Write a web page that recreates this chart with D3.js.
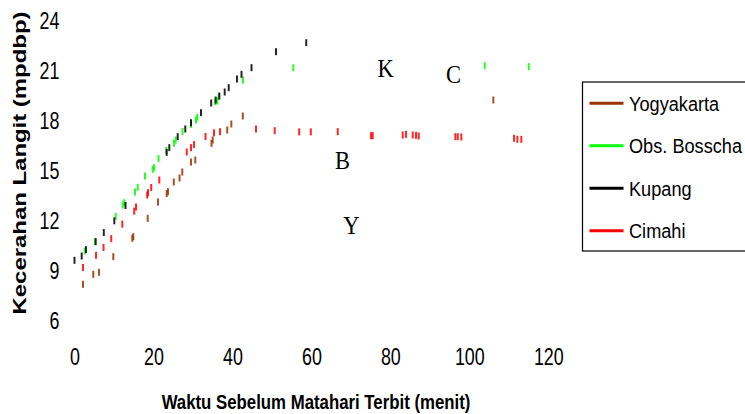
<!DOCTYPE html>
<html>
<head>
<meta charset="utf-8">
<script src="https://cdn.jsdelivr.net/npm/d3@7"></script>
<style>
  html, body { margin: 0; padding: 0; background: #fff; }
  svg { display: block; }
</style>
</head>
<body>
<div id="chart"></div>
<script>
// ---- data ----
var xTicks = [0, 20, 40, 60, 80, 100, 120];
var yTicks = [6, 9, 12, 15, 18, 21, 24];

var seriesNames = ["Yogyakarta", "Obs. Bosscha", "Kupang", "Cimahi"];
var seriesColors = ["#993300", "#00ff00", "#000000", "#ff0000"];

var yogyaX = [2.15, 4.76, 6.21, 9.83, 14.64, 14.89, 18.54, 21.15, 23.35, 23.68, 25.15, 26.6, 27.3, 29.51, 30.6, 34.7, 35.0, 38.68, 39.72, 42.63, 106.08];
var yogyaY = [8.02, 8.62, 8.74, 9.68, 10.78, 10.88, 11.98, 12.96, 13.47, 13.58, 14.16, 14.4, 14.76, 15.36, 15.48, 16.48, 16.68, 17.28, 17.64, 18.12, 19.08];

var bosschaX = [2.58, 5.19, 10.44, 12.21, 12.61, 15.32, 16.01, 17.86, 19.81, 20.14, 21.28, 23.25, 25.2, 25.63, 27.36, 29.51, 30.78, 31.08, 35.59, 36.17, 36.52, 42.68, 55.42, 103.9, 115.05];
var bosschaY = [10.02, 10.58, 12.09, 12.78, 12.92, 13.56, 13.84, 14.52, 14.92, 15.02, 15.57, 16.05, 16.48, 16.68, 17.19, 17.62, 17.88, 18.04, 18.99, 19.02, 19.28, 20.28, 21.02, 21.14, 21.08];

var kupangX = [0, 1.82, 2.91, 5.37, 7.42, 10.08, 12.92, 23.35, 24.01, 26.14, 28.06, 29.51, 32.04, 34.62, 35.76, 36.68, 38.04, 39.06, 41.16, 42.3, 44.83, 51.04, 58.69];
var kupangY = [9.46, 9.72, 10.1, 10.58, 11.13, 11.83, 12.75, 15.94, 16.22, 16.88, 17.34, 17.72, 18.32, 18.9, 19.08, 19.32, 19.56, 19.82, 20.34, 20.62, 21.02, 21.98, 22.52];

var cimahiX = [2.15, 5.45, 7.35, 9.3, 12.11, 15.12, 15.58, 18.41, 18.62, 19.43, 21.48, 28.42, 29.51, 30.27, 33.18, 35.33, 36.85, 45.97, 50.71, 56.91, 59.85, 66.67, 75.1, 75.53, 83.13, 83.97, 85.66, 86.5, 87.18, 96.45, 97.06, 97.97, 111.32, 112.16, 113.17];
var cimahiY = [9.03, 9.76, 10.23, 10.76, 11.63, 12.41, 12.66, 13.38, 13.52, 13.83, 14.28, 15.96, 16.22, 16.4, 16.89, 17.11, 17.18, 17.34, 17.24, 17.17, 17.17, 17.18, 16.94, 16.94, 16.98, 17.02, 16.98, 16.96, 16.92, 16.88, 16.88, 16.86, 16.78, 16.72, 16.72];

var noteLabels = ["K", "C", "B", "Y"];
var noteX = [78.8, 96.0, 67.9, 70.1];
var noteY = [20.96, 20.58, 15.4, 11.5];

var drawChart = function() {

    const width = 745;
    const height = 414;
    const sans = '"Liberation Sans", Arial, sans-serif';
    const serif = '"Liberation Serif", "Times New Roman", serif';

    var svg = d3.select("#chart")
        .append("svg")
        .attr("width", width)
        .attr("height", height)
        .style("background-color", "#fff");

    // scales
    var x = d3.scaleLinear().domain([0, 120]).range([74.5, 548.3]);
    var y = d3.scaleLinear().domain([6, 24]).range([318, 18]);

    // x axis (labels only)
    var gx = svg.append("g")
        .attr("transform", "translate(0,365)")
        .call(d3.axisBottom(x).tickValues(xTicks).tickSize(0).tickPadding(0));
    gx.select(".domain").remove();
    gx.selectAll("text")
        .attr("y", 0).attr("dy", null)
        .attr("transform", "scale(0.73,1)")
        .attr("font-family", sans)
        .attr("font-size", 24.5)
        .attr("fill", "#000");

    // y axis (labels only)
    var gy = svg.append("g")
        .attr("transform", "translate(59.5,0)")
        .call(d3.axisLeft(y).tickValues(yTicks).tickSize(0).tickPadding(0));
    gy.select(".domain").remove();
    gy.selectAll("text")
        .attr("x", 0).attr("dy", null).attr("y", 10)
        .attr("text-anchor", "end")
        .attr("transform", "scale(0.73,1)")
        .attr("font-family", sans)
        .attr("font-size", 24.5)
        .attr("fill", "#000");

    // axis titles
    svg.append("text")
        .attr("transform", "translate(316,409) scale(0.8,1)")
        .attr("text-anchor", "middle")
        .attr("font-family", sans)
        .attr("font-weight", "bold")
        .attr("font-size", 21)
        .text("Waktu Sebelum Matahari Terbit (menit)");

    svg.append("text")
        .attr("transform", "translate(26,163) rotate(-90) scale(1.33,1)")
        .attr("text-anchor", "middle")
        .attr("font-family", sans)
        .attr("font-weight", "bold")
        .attr("font-size", 18)
        .text("Kecerahan Langit (mpdbp)");

    // series marks (short vertical dashes)
    var series = [
        { xs: yogyaX, ys: yogyaY },
        { xs: bosschaX, ys: bosschaY },
        { xs: kupangX, ys: kupangY },
        { xs: cimahiX, ys: cimahiY }
    ];
    series.forEach(function(s, i) {
        var pts = s.xs.map(function(v, j) { return [v, s.ys[j]]; });
        svg.append("g")
            .selectAll("rect")
            .data(pts)
            .enter()
            .append("rect")
            .attr("x", function(d) { return x(d[0]) - 1; })
            .attr("y", function(d) { return y(d[1]) - 3.5; })
            .attr("width", 2)
            .attr("height", 7)
            .attr("fill", seriesColors[i])
            .attr("opacity", 0.85);
    });

    // letter notes
    noteLabels.forEach(function(t, i) {
        svg.append("text")
            .attr("transform", "translate(" + x(noteX[i]) + "," + (y(noteY[i]) + 8) + ") scale(0.9,1)")
            .attr("text-anchor", "middle")
            .attr("font-family", serif)
            .attr("font-size", 25)
            .attr("fill", "#000")
            .text(t);
    });

    // legend
    var legend = svg.append("g");
    legend.append("rect")
        .attr("x", 582.5).attr("y", 82)
        .attr("width", 200).attr("height", 169)
        .attr("fill", "#fff")
        .attr("stroke", "#000")
        .attr("stroke-width", 1.2);
    var legendY = d3.scalePoint().domain(seriesNames).range([103.3, 230.7]);
    seriesNames.forEach(function(name, i) {
        legend.append("line")
            .attr("x1", 589.5).attr("x2", 623.5)
            .attr("y1", legendY(name)).attr("y2", legendY(name))
            .attr("stroke", seriesColors[i])
            .attr("stroke-width", 3);
        legend.append("text")
            .attr("transform", "translate(629," + (legendY(name) + 7.5) + ") scale(0.865,1)")
            .attr("font-family", sans)
            .attr("font-size", 21)
            .attr("fill", "#000")
            .text(name);
    });
};

window.addEventListener("load", drawChart);
</script>
</body>
</html>
